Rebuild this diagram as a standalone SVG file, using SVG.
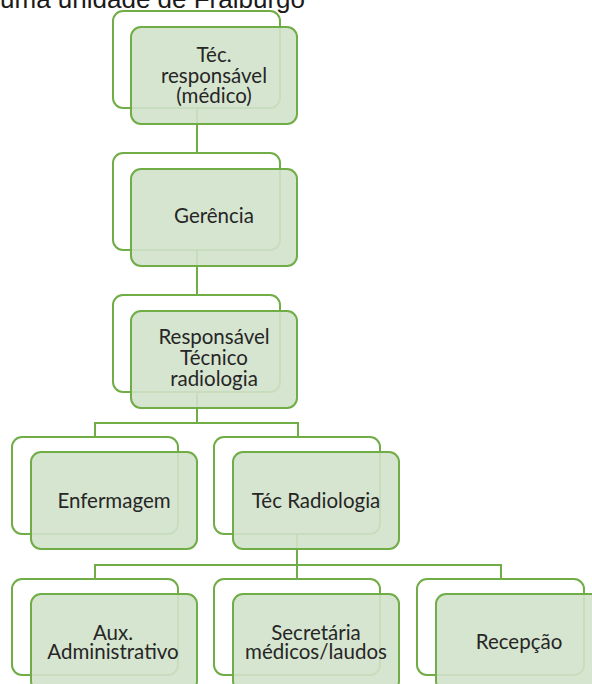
<svg xmlns="http://www.w3.org/2000/svg" width="592" height="684" viewBox="0 0 592 684">
<style>
.back{fill:#ffffff;stroke:#70ad47;stroke-width:2}
.front{fill:#d1e2cb;fill-opacity:0.9;stroke:#70ad47;stroke-width:2}
.conn{fill:none;stroke:#70ad47;stroke-width:2}
.lbl{font-family:Lato,"Open Sans","Liberation Sans",sans-serif;font-size:20.5px;fill:#262626;text-anchor:middle}
.title{font-family:"Liberation Sans",Arial,sans-serif;font-size:26px;fill:#1a1a1a;text-anchor:end}
</style>
<rect width="592" height="684" fill="#ffffff"/>
<text class="title" x="305" y="7.5">uma unidade de Fraiburgo</text>
<g id="connectors">
<path class="conn" d="M197 108 V153"/>
<path class="conn" d="M197 250 V295"/>
<path class="conn" d="M197 392 V423 M95 437 V423 H298 V437"/>
<path class="conn" d="M297 534 V579 M95 579 V565 H501 V579"/>
</g>
<g id="n1">
<rect class="back" x="113" y="11" width="167" height="97" rx="10"/>
<rect class="front" x="131" y="27" width="166" height="97" rx="10"/>
<text class="lbl" x="214" y="61.5">Téc.</text>
<text class="lbl" x="214" y="82.5">responsável</text>
<text class="lbl" x="214" y="103">(médico)</text>
</g>
<g id="n2">
<rect class="back" x="113" y="153" width="167" height="97" rx="10"/>
<rect class="front" x="131" y="169" width="166" height="97" rx="10"/>
<text class="lbl" x="214" y="223">Gerência</text>
</g>
<g id="n3">
<rect class="back" x="113" y="295" width="167" height="97" rx="10"/>
<rect class="front" x="131" y="311" width="166" height="97" rx="10"/>
<text class="lbl" x="214" y="343.5">Responsável</text>
<text class="lbl" x="214" y="365">Técnico</text>
<text class="lbl" x="214" y="386">radiologia</text>
</g>
<g id="n4">
<rect class="back" x="12" y="437" width="166" height="97" rx="10"/>
<rect class="front" x="31" y="452" width="166" height="97" rx="10"/>
<text class="lbl" x="114" y="508">Enfermagem</text>
</g>
<g id="n5">
<rect class="back" x="214" y="437" width="166" height="97" rx="10"/>
<rect class="front" x="233" y="452" width="166" height="97" rx="10"/>
<text class="lbl" x="316" y="508">Téc Radiologia</text>
</g>
<g id="n6">
<rect class="back" x="12" y="579" width="166" height="96" rx="10"/>
<rect class="front" x="31" y="594" width="166" height="97" rx="10"/>
<text class="lbl" x="113" y="640">Aux.</text>
<text class="lbl" x="113" y="659">Administrativo</text>
</g>
<g id="n7">
<rect class="back" x="214" y="579" width="166" height="96" rx="10"/>
<rect class="front" x="233" y="594" width="166" height="97" rx="10"/>
<text class="lbl" x="316" y="640">Secretária</text>
<text class="lbl" x="316" y="659">médicos/laudos</text>
</g>
<g id="n8">
<rect class="back" x="417" y="579" width="167" height="96" rx="10"/>
<rect class="front" x="436" y="594" width="166" height="97" rx="10"/>
<text class="lbl" x="519" y="649">Recepção</text>
</g>
</svg>
